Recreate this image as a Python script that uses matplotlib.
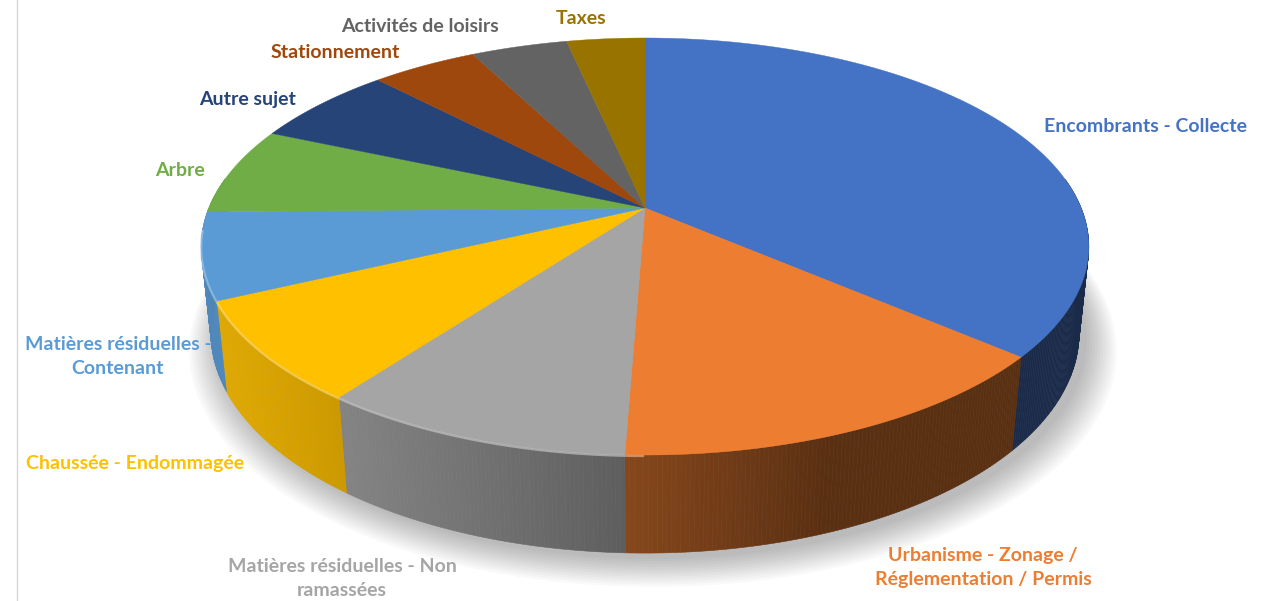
import numpy as np
import matplotlib.pyplot as plt
from matplotlib.patches import Polygon
import matplotlib.colors as mcolors

# donnees (part en %)
labels = ['Encombrants - Collecte',
          'Urbanisme - Zonage /\nRéglementation / Permis',
          'Matières résiduelles - Non\nramassées',
          'Chaussée - Endommagée',
          'Matières résiduelles -\nContenant',
          'Arbre',
          'Autre sujet',
          'Stationnement',
          'Activités de loisirs',
          'Taxes']
values = [36.3, 14.3, 9.6, 7.8, 6.7, 6.8, 6.3, 4.6, 4.2, 3.4]
colors = ['#4472C4', '#ED7D31', '#A5A5A5', '#FFC000', '#5B9BD5',
          '#70AD47', '#264478', '#9E480E', '#636363', '#997300']

# position des etiquettes (pixels)
label_pos = [(1146, 126), (983, 568), (342, 578), (135, 464), (118, 357),
             (180, 170), (248, 99), (335, 53), (420, 27), (581, 18)]

# camera pour la pseudo 3D
E = np.radians(27.5)
C = 4.803
F = 2095
H = 0.226
CX, CY = 645, 208


def proj(t, z, r=1.0):
    x = r * np.sin(t)
    y = r * np.cos(t)
    d = C + y * np.cos(E) - z * np.sin(E)
    u = x * F / d
    v = (y * np.sin(E) + z * np.cos(E)) * F / d
    return CX + u, CY - v


def shade(col, k):
    rgb = np.array(mcolors.to_rgb(col))
    return tuple(np.clip(rgb * k, 0, 1))


def light(t):
    return 0.38 + 0.5 * max(0.0, np.cos(t - np.radians(250)))


fig = plt.figure(figsize=(12.63, 6.01), dpi=100)
ax = fig.add_axes([0, 0, 1, 1])
ax.set_xlim(0, 1263)
ax.set_ylim(601, 0)
ax.axis('off')

# bordure gauche
ax.plot([17, 17], [0, 601], color='#d9d9d9', lw=1)

# ombre
tt = np.linspace(0, 2 * np.pi, 400)
for i in range(12):
    s = 1.0 + 0.006 * i
    sx, sy = proj(tt, -H, r=s)
    ax.add_patch(Polygon(np.column_stack([sx + 8, sy + 6 + i * 0.6]), closed=True,
                         fc='#000000', ec='none', alpha=0.022, zorder=1))

frac = np.array(values) / np.sum(values)
bounds = np.concatenate([[0], np.cumsum(frac)]) * 2 * np.pi

# parois laterales
for k in range(len(values)):
    t0, t1 = bounds[k], bounds[k + 1]
    n = max(2, int(np.degrees(t1 - t0) / 0.5))
    ts = np.linspace(t0, t1, n + 1)
    for a, b in zip(ts[:-1], ts[1:]):
        if np.cos((a + b) / 2) > 0.15:
            continue
        xa, ya = proj(a, 0)
        xb, yb = proj(b, 0)
        xc, yc = proj(b, -H)
        xd, yd = proj(a, -H)
        c = shade(colors[k], light((a + b) / 2))
        ax.add_patch(Polygon([(xa, ya), (xb, yb), (xc, yc), (xd, yd)], closed=True,
                             fc=c, ec=c, lw=0.4, zorder=2))

# faces du dessus
for k in range(len(values)):
    t0, t1 = bounds[k], bounds[k + 1]
    ts = np.linspace(t0, t1, 200)
    px, py = proj(ts, 0)
    pts = [(CX, CY)] + list(zip(px, py))
    ax.add_patch(Polygon(pts, closed=True, fc=colors[k], ec=colors[k], lw=0.3, zorder=3))
    # reflet sur le bord avant gauche
    front = ts[(np.cos(ts) < -0.1) & (ts > np.radians(180))]
    if len(front) > 1:
        rx, ry = proj(front, 0)
        hl = tuple(0.5 * np.array(mcolors.to_rgb(colors[k])) + 0.5)
        ax.plot(rx, ry + 1, color=hl, lw=1.6, alpha=0.6, zorder=4, solid_capstyle='butt')

# etiquettes
for k in range(len(values)):
    x, y = label_pos[k]
    ax.text(x, y, labels[k], color=colors[k], fontsize=14, fontweight='bold',
            family=['Lato', 'DejaVu Sans'], ha='center', va='center',
            multialignment='center', linespacing=1.5, zorder=6)

fig.savefig('out.png', dpi=100, facecolor='white')
